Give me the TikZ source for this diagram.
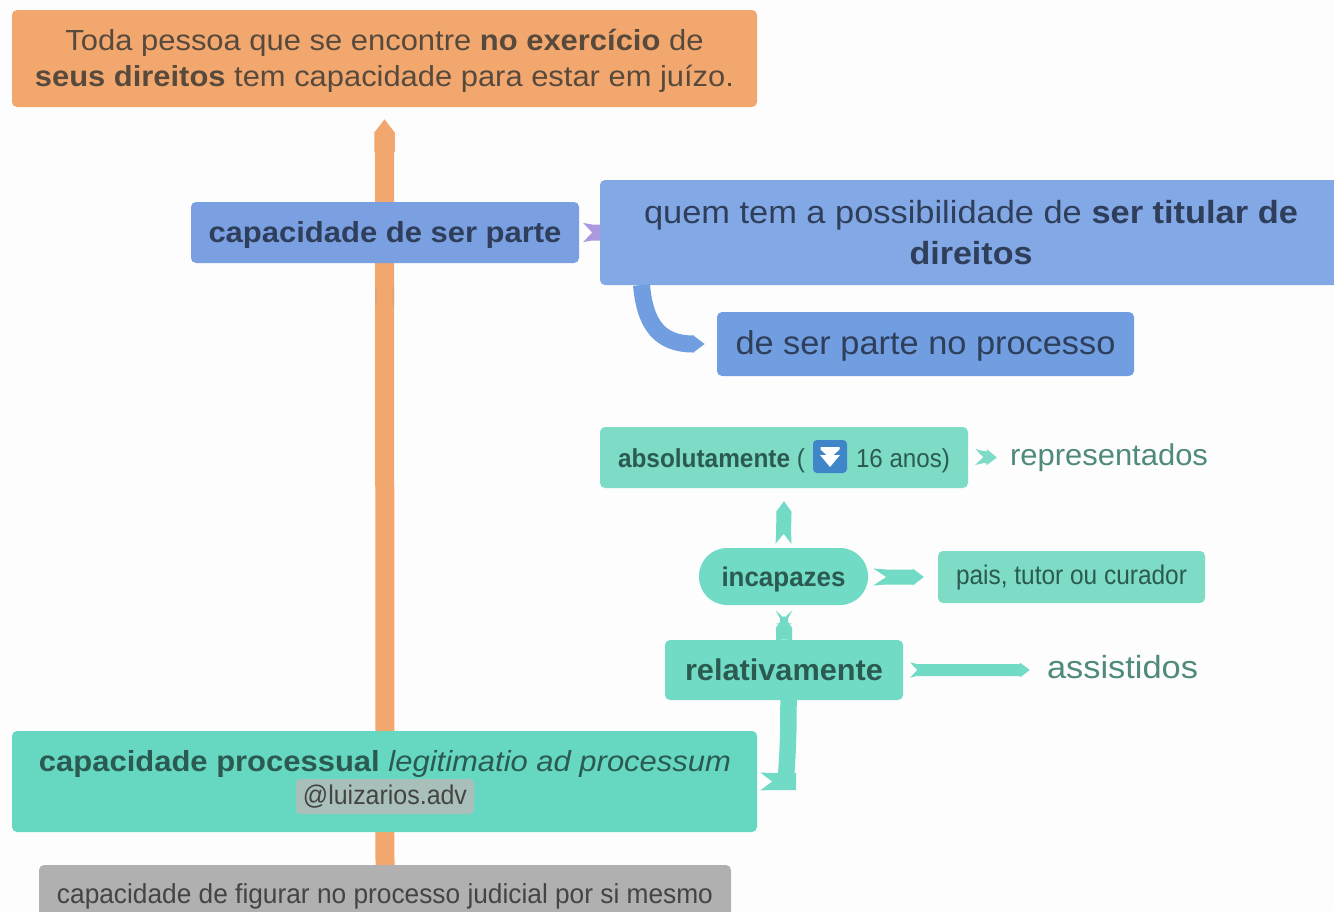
\documentclass[tikz,border=0pt]{standalone}
\usepackage{fontspec}
\usepackage{graphicx}
\setmainfont{Liberation Sans}
\usetikzlibrary{arrows.meta,calc}
\definecolor{bg}{HTML}{FDFDFD}
\definecolor{orangebox}{HTML}{F2A76F}
\definecolor{bluea}{HTML}{7AA0E2}
\definecolor{blueb}{HTML}{82A9E5}
\definecolor{bluec}{HTML}{709EE0}
\definecolor{tealpale}{HTML}{7DDBC6}
\definecolor{tealmid}{HTML}{72DBC5}
\definecolor{tealdeep}{HTML}{66D7C1}
\definecolor{greybox}{HTML}{B0B0B0}
\definecolor{tagfill}{HTML}{A9C0BA}
\definecolor{purplec}{HTML}{AC98DF}
\definecolor{iconblue}{HTML}{3F86C9}
\definecolor{txtorange}{HTML}{574A3C}
\definecolor{txtblue}{HTML}{2F3E5A}
\definecolor{txtteal}{HTML}{2A5A50}
\definecolor{txtlabel}{HTML}{4F8A7C}
\definecolor{txtgrey}{HTML}{444444}
\newcommand{\fitw}[3]{\resizebox{#1pt}{\height}{\fontsize{#2}{#2}\selectfont #3}}
% push a node's text down by #1 (the node centres on height+depth)
\newcommand{\dn}[2]{\raisebox{0pt}[\dimexpr\height+2\dimexpr #1\relax\relax][\depth]{#2}}
% colour, from, to, half width, half flare, notch, head
\newcommand{\ribbon}[7]{%
  \coordinate (ra) at #2; \coordinate (rb) at #3;
  \coordinate (rh) at ($(rb)!#7pt!(ra)$); \coordinate (rn) at ($(ra)!#6pt!(rb)$);
  \fill[#1] ($(ra)!#5pt!90:(rb)$) -- (rn) -- ($(ra)!#5pt!-90:(rb)$) -- ($(rn)!#4pt!-90:(rb)$)
    -- ($(rh)!#4pt!90:(ra)$) -- ($(rh)!#5pt!90:(ra)$) -- (rb) -- ($(rh)!#5pt!-90:(ra)$)
    -- ($(rh)!#4pt!-90:(ra)$) -- ($(rn)!#4pt!90:(rb)$) -- cycle;}
\tikzset{
  box/.style={rectangle,rounded corners=5pt,inner sep=0pt,align=center,anchor=center},
  plainlabel/.style={inner sep=0pt,anchor=center,text=txtlabel},
  conn/.style={line cap=butt},
}
\begin{document}
\begin{tikzpicture}[x=1pt,y=-1pt]
\useasboundingbox (0,0) rectangle (1334,911);
\clip (0,0) rectangle (1334,911);
\fill[bg] (0,0) rectangle (1334,911);

\node[box,fill=orangebox,minimum width=745pt,minimum height=97pt,text=txtorange] (top) at (384.5,58.5)
 {\dn{2.5pt}{\fitw{638}{29}{Toda pessoa que se encontre \textbf{no exercício} de}}\\[8pt]\fitw{699}{29}{\textbf{seus direitos} tem capacidade para estar em juízo.}};

\node[box,fill=greybox,minimum width=692pt,minimum height=56pt,text=txtgrey] (grey) at (385,893)
 {\dn{3pt}{\fitw{656}{27.5}{capacidade de figurar no processo judicial por si mesmo}}};

% main orange connector
\draw[conn,orangebox,line width=19pt,-{Rectangle[length=19pt,width=20.5pt]Triangle[length=14pt,width=20.5pt]}] (grey.north) -- ($(top.south)+(0,12)$);
\fill[orangebox!85!gray] (375,287) rectangle (376.5,305) (392.5,287) rectangle (394,305);

\node[box,fill=bluea,minimum width=388pt,minimum height=61pt,text=txtblue] (parte) at (385,232.5)
 {\dn{2pt}{\fitw{353}{29}{\textbf{capacidade de ser parte}}}};

\ribbon{purplec}{($(parte.east)+(4,0)$)}{($(parte.east)+(24,0)$)}{8}{9.5}{9}{0.1}

\node[box,fill=blueb,minimum width=742pt,minimum height=105pt,text=txtblue] (titular) at (971,232.5)
 {\fitw{654}{32}{quem tem a possibilidade de \textbf{ser titular de}}\\[11pt]\fitw{123}{32}{\textbf{direitos}}};

\node[box,fill=bluec,minimum width=417pt,minimum height=64pt,text=txtblue] (serparte) at (925.5,344)
 {\dn{2pt}{\fitw{380}{33}{de ser parte no processo}}};

\draw[conn,bluec,line width=17pt,-{Triangle[length=12pt,width=17pt]}] (641.5,285) .. controls (645,325) and (660,344) .. ($(serparte.west)+(-12,0)$);

% teal group
\node[box,fill=tealpale,minimum width=368pt,minimum height=61pt,text=txtteal] (abs) at (784,457.5)
 {\dn{3.5pt}{\fitw{187}{26}{\textbf{absolutamente} (}}\hspace{51pt}\fitw{94}{26}{16 anos)}};
\node[inner sep=0pt,rounded corners=4pt,fill=iconblue,minimum width=34pt,minimum height=33pt] (icon) at (830,456.5) {};
\fill[white] ($(icon.center)+(-9.5,-9.5)$) -- ($(icon.center)+(9.5,-9.5)$) -- ($(icon.center)+(9.5,-7)$) -- ($(icon.center)+(3,-1)$) -- ($(icon.center)+(-3,-1)$) -- ($(icon.center)+(-9.5,-7)$) -- cycle;
\fill[white] ($(icon.center)+(-10,-1.5)$) -- ($(icon.center)+(10,-1.5)$) -- ($(icon.center)+(0,10.5)$) -- cycle;

\node[box,fill=tealmid,minimum width=169pt,minimum height=57pt,rounded corners=28pt,text=txtteal] (inc) at (783.5,576.5)
 {\dn{3pt}{\fitw{124}{27}{\textbf{incapazes}}}};
\node[box,fill=tealpale,minimum width=267pt,minimum height=52pt,text=txtteal] (pais) at (1071.5,577)
 {\dn{1pt}{\fitw{231}{27}{pais, tutor ou curador}}};
\node[box,fill=tealmid,minimum width=238pt,minimum height=60pt,text=txtteal] (rel) at (784,670)
 {\fitw{198}{30}{\textbf{relativamente}}};
\node[box,fill=tealdeep,minimum width=745pt,minimum height=101pt] (proc) at (384.5,781.5) {};
\node[inner sep=0pt,text=txtteal] (proctext) at (385,764) {\fitw{692}{29}{\textbf{capacidade processual} \textit{legitimatio ad processum}}};
\node[inner sep=0pt,rounded corners=4pt,fill=tagfill,minimum width=178pt,minimum height=35pt,text=txtgrey] (tag) at (385,796.5)
 {\fitw{164}{27}{@luizarios.adv}};

\node[plainlabel] (repr) at (1109,458) {\fitw{198}{30}{representados}};
\node[plainlabel] (assist) at (1122.5,667) {\fitw{151}{32}{assistidos}};

\ribbon{tealpale}{($(abs.east)+(7,-0.5)$)}{($(repr.west)+(-13,-0.5)$)}{6}{8}{8}{10}
\ribbon{tealmid}{($(inc.north)+(0,-4)$)}{($(abs.south)+(0,13)$)}{7.5}{8}{10}{11}
\ribbon{tealmid}{($(inc.east)+(5,0.5)$)}{($(pais.west)+(-14,0)$)}{7.5}{8.5}{13}{11}
\ribbon{tealmid}{(rel.north)}{($(rel.north)+(0,-24)$)}{8}{8}{0.1}{12}
\ribbon{tealmid}{($(inc.south)+(0.5,5)$)}{($(inc.south)+(0.5,19)$)}{4}{8.5}{8}{1}
\ribbon{tealmid}{($(rel.east)+(7,0)$)}{($(assist.west)+(-17,3)$)}{6}{7.5}{7}{10}
\draw[conn,tealmid,line width=16.5pt] ($(rel.south)+(4.5,0)$) .. controls ($(rel.south)+(4.5,30)$) and ($(rel.south)+(4,50)$) .. ($(proc.east)+(29,-8)$);
\ribbon{tealmid}{($(proc.east)+(3,0)$)}{($(proc.east)+(39,0)$)}{8.5}{9}{12}{0.1}
\end{tikzpicture}
\end{document}
